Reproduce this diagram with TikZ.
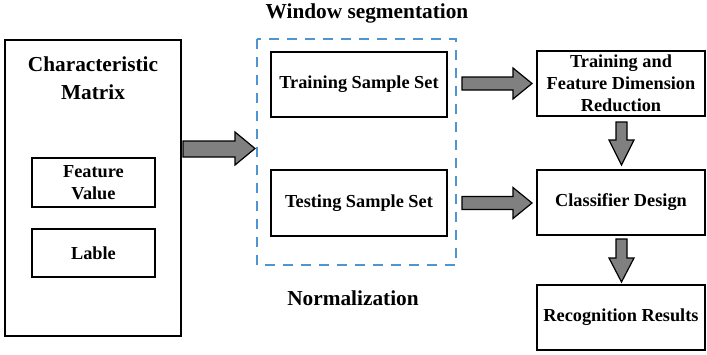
\documentclass[tikz,border=0pt]{standalone}
\usepackage{fontspec}
\setmainfont{Liberation Serif}
\begin{document}
\begin{tikzpicture}[x=1pt,y=-1pt,
  box/.style={draw=black,line width=1.3pt,fill=white,inner sep=0pt,align=center,
    font=\fontsize{18.3}{22}\selectfont\bfseries},
  title/.style={inner sep=0pt,align=center,font=\fontsize{21.3}{28}\selectfont\bfseries},
  blk/.style={draw=black,line width=1.2pt,fill=black!50,line join=miter},
  dashbox/.style={draw=dashblue,line width=1.2pt,dash pattern=on 10pt off 8pt}]
\definecolor{dashblue}{HTML}{4F95D2}
\useasboundingbox (0,0) rectangle (707,354);
% left matrix
\node[box,minimum width=176,minimum height=296] (cm) at (93,188) {};
\node[title] (cmt) at (93,78) {Characteristic\\Matrix};
\node[box,minimum width=123,minimum height=49] (fv) at (93.5,182.5) {Feature\\Value};
\node[box,minimum width=123,minimum height=48] (lb) at (93.5,253) {Lable};
% dashed group
\draw[dashbox] (257,39) rectangle (456,265);
\node[title] (ws) at (367,13) {Window segmentation};
\node[title] (nm) at (353,298) {Normalization};
\node[box,minimum width=176,minimum height=65] (tr) at (359,84.5) {Training Sample Set};
\node[box,minimum width=176,minimum height=66] (te) at (359,203) {Testing Sample Set};
% right column
\node[box,minimum width=168,minimum height=65] (fd) at (621,83.5) {Training and\\Feature Dimension\\Reduction};
\node[box,minimum width=168,minimum height=65] (cd) at (621,202.5) {Classifier Design};
\node[box,minimum width=168,minimum height=65] (rr) at (621,317.5) {Recognition Results};
% block arrows
\draw[blk] (183,141) -- (235,141) -- (235,132) -- (255,148.5) -- (235,165) -- (235,157) -- (183,157) -- cycle;
\draw[blk] (462,77) -- (513,77) -- (513,68) -- (532,83.5) -- (513,99) -- (513,90) -- (462,90) -- cycle;
\draw[blk] (462,196.5) -- (513,196.5) -- (513,187.5) -- (532,203) -- (513,218.5) -- (513,209.5) -- (462,209.5) -- cycle;
\draw[blk] (616,122) -- (616,140) -- (609,140) -- (621.5,165) -- (634,140) -- (627,140) -- (627,122) -- cycle;
\draw[blk] (616,239) -- (616,258) -- (609,258) -- (621.5,282) -- (634,258) -- (627,258) -- (627,239) -- cycle;
\end{tikzpicture}
\end{document}
